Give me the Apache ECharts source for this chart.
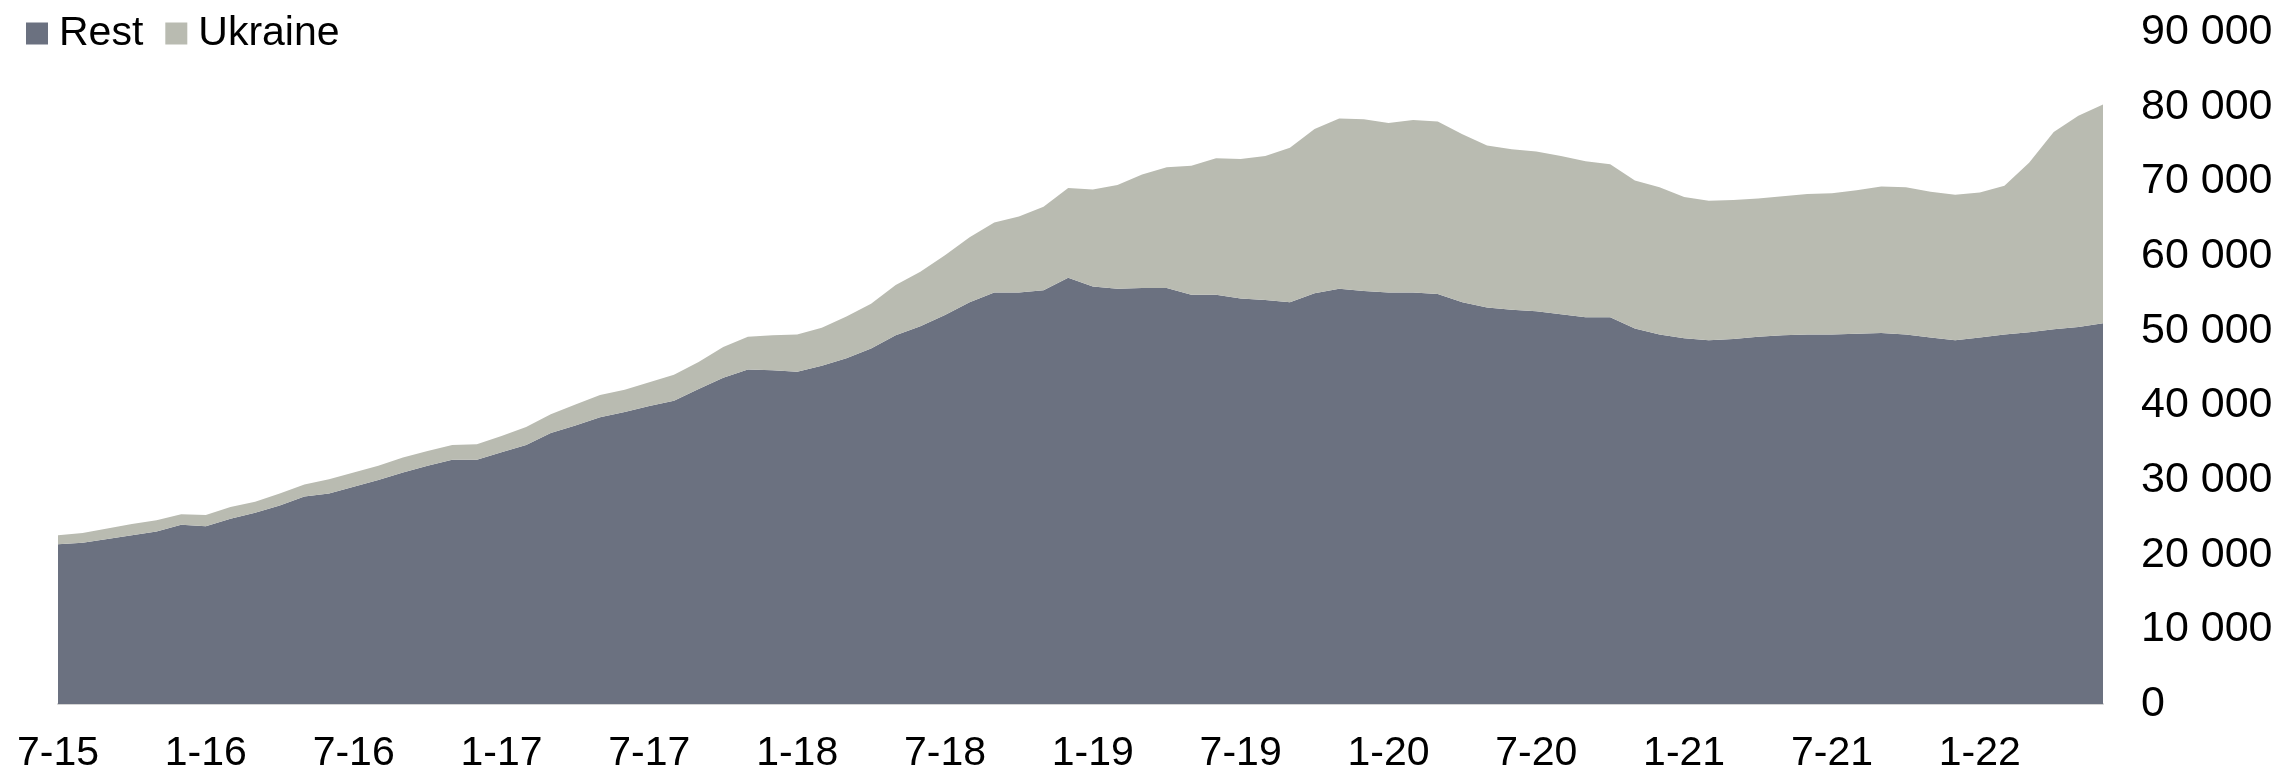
<!DOCTYPE html>
<html>
<head>
<meta charset="utf-8">
<script src="https://cdn.jsdelivr.net/npm/echarts@6/dist/echarts.min.js"></script>
<style>
html,body{margin:0;padding:0;background:#fff;}
#chart{width:2277px;height:774px;}
</style>
</head>
<body>
<div id="chart"></div>
<script>
// Monthly, 7-15 .. 6-22
var startYear = 2015, startMonth = 7, nMonths = 84;
var categories = [];
for (var k = 0; k < nMonths; k++) {
  var m = (startMonth - 1 + k) % 12 + 1;
  var y = startYear + Math.floor((startMonth - 1 + k) / 12);
  categories.push(m + '-' + String(y % 100).padStart(2, '0'));
}

var rest = [
  21400,21600,22100,22600,23100,24000,23800,24800,25600,26600,27800,28200,
  29100,30000,31000,31900,32700,32700,33700,34700,36300,37300,38400,39100,
  39900,40600,42200,43700,44800,44700,44500,45300,46300,47600,49400,50600,
  52100,53800,55100,55100,55400,57100,55900,55600,55700,55700,54800,54800,
  54300,54100,53800,55000,55600,55300,55100,55100,54900,53800,53100,52800,
  52600,52200,51800,51800,50300,49500,49000,48700,48900,49200,49400,49500,
  49500,49600,49700,49500,49100,48700,49100,49500,49800,50200,50500,51000
];

var ukraine = [
  1200,1300,1400,1500,1500,1400,1500,1600,1500,1600,1600,1900,
  1900,1900,2000,2000,2000,2100,2200,2400,2500,2800,3000,3000,
  3200,3500,3600,4100,4400,4700,5000,5100,5600,6000,6700,7300,
  8000,8700,9400,10200,11200,12000,13000,13900,15200,16200,17300,18300,
  18700,19300,20700,22000,22800,23000,22700,23100,23100,22500,21700,21500,
  21400,21200,20900,20500,19800,19700,18900,18700,18600,18500,18600,18800,
  18900,19200,19600,19700,19500,19500,19400,19900,22700,26400,28300,29300
];

var yTicks = { min: 0, max: 90000, interval: 10000 };

var chart = echarts.init(document.getElementById('chart'), null, {renderer: 'canvas'});
var font = '"Liberation Sans", Arial, sans-serif';

chart.setOption({
  animation: false,
  backgroundColor: '#ffffff',
  color: ['#6b7180', '#b9bbb1'],
  legend: {
    left: 21,
    top: 8,
    icon: 'rect',
    itemWidth: 22,
    itemHeight: 22,
    itemGap: 22,
    textStyle: { fontFamily: font, fontSize: 41, color: '#000', padding: [0, 0, 0, 6] },
    data: ['Rest', 'Ukraine']
  },
  grid: { left: 58, right: 174, top: 32, bottom: 70, containLabel: false },
  xAxis: {
    type: 'category',
    data: categories,
    boundaryGap: false,
    axisLine: { show: true, lineStyle: { color: '#d4d4d4', width: 2 } },
    axisTick: { show: false },
    splitLine: { show: false },
    axisLabel: {
      interval: 5,
      margin: 29,
      fontFamily: font,
      fontSize: 41,
      color: '#000'
    }
  },
  yAxis: {
    type: 'value',
    position: 'right',
    min: yTicks.min,
    max: yTicks.max,
    interval: yTicks.interval,
    axisLine: { show: false },
    axisTick: { show: false },
    splitLine: { show: false },
    axisLabel: {
      margin: 38,
      fontFamily: font,
      fontSize: 43,
      color: '#000',
      formatter: function (v) {
        return String(v).replace(/\B(?=(\d{3})+(?!\d))/g, ' ');
      }
    }
  },
  series: [
    {
      name: 'Rest',
      type: 'line',
      stack: 'total',
      data: rest,
      symbol: 'none',
      lineStyle: { width: 0 },
      areaStyle: { color: '#6b7180', opacity: 1 },
      itemStyle: { color: '#6b7180' }
    },
    {
      name: 'Ukraine',
      type: 'line',
      stack: 'total',
      data: ukraine,
      symbol: 'none',
      lineStyle: { width: 0 },
      areaStyle: { color: '#b9bbb1', opacity: 1 },
      itemStyle: { color: '#b9bbb1' }
    }
  ]
});
</script>
</body>
</html>
